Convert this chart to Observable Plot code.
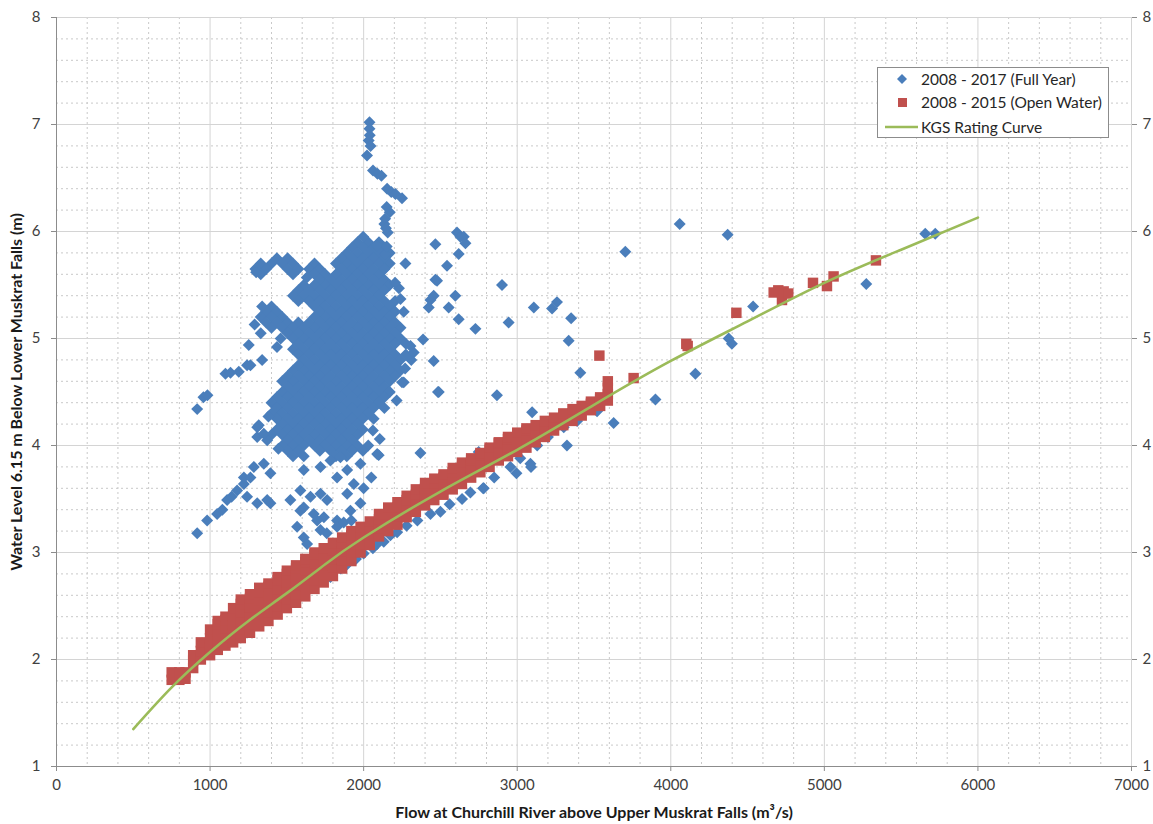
<!DOCTYPE html>
<html>
<head>
<meta charset="utf-8">
<script src="https://cdn.jsdelivr.net/npm/d3@7"></script>
<script src="https://cdn.jsdelivr.net/npm/@observablehq/plot@0.6"></script>
<style>
  body { margin: 0; background: #fff; }
  #wrap { position: relative; width: 1153px; height: 824px; font-family: Lato, "Open Sans", sans-serif; }
  #legend { position: absolute; left: 877px; top: 67px; width: 232px; height: 71px; box-sizing: border-box;
            border: 1px solid #8c8c8c; background: #fff; }
  .item { position: absolute; left: 0; height: 22px; display: flex; align-items: center; font-size: 15.5px; color: #262626; white-space: nowrap; }
  .item svg { width: 43px; height: 22px; flex: none; }
</style>
</head>
<body>
<div id="wrap">
  <div id="chart"></div>
  <div id="legend"></div>
</div>
<script>
// ---- Data ----
const xTicks = [0, 1000, 2000, 3000, 4000, 5000, 6000, 7000];
const yTicks = [1, 2, 3, 4, 5, 6, 7, 8];
const xLabel = "Flow at Churchill River above Upper Muskrat Falls (m³/s)";
const yLabel = "Water Level 6.15 m Below Lower Muskrat Falls (m)";
const seriesNames = ["2008 - 2017 (Full Year)", "2008 - 2015 (Open Water)", "KGS Rating Curve"];
const colors = ["#4a7ebb", "#c0504d", "#9bbb59"];

// KGS rating curve: flow (m3/s), level (m)
const curveFlow  = [500, 750, 1000, 1250, 1500, 1750, 2000, 2500, 3000, 3500, 4000, 4500, 5000, 5500, 6000];
const curveLevel = [1.35, 1.74, 2.07, 2.36, 2.62, 2.89, 3.14, 3.57, 3.96, 4.38, 4.79, 5.16, 5.52, 5.83, 6.13];

// Full-year series, dense core: [level, [flows...]]
const blueCoreRows = [
  [5.90, [1960, 2030, 2100]],
  [5.85, [1925, 1995, 2065, 2135]],
  [5.80, [1890, 1960, 2030, 2100, 2170]],
  [5.75, [1435, 1505, 1855, 1925, 1995, 2065, 2135]],
  [5.70, [1330, 1400, 1470, 1540, 1680, 1820, 1890, 1960, 2030, 2100, 2170]],
  [5.65, [1295, 1365, 1505, 1575, 1645, 1715, 1855, 1925, 1995, 2065, 2135]],
  [5.60, [1330, 1540, 1680, 1750, 1820, 1890, 1960, 2030, 2100]],
  [5.55, [1715, 1785, 1855, 1925, 1995, 2065, 2135]],
  [5.50, [1610, 1680, 1750, 1820, 1890, 1960, 2030, 2100, 2170]],
  [5.45, [1575, 1645, 1715, 1785, 1855, 1925, 1995, 2065, 2135]],
  [5.40, [1540, 1610, 1680, 1750, 1820, 1890, 1960, 2030, 2100]],
  [5.35, [1575, 1645, 1715, 1785, 1855, 1925, 1995, 2065, 2135, 2205]],
  [5.30, [1400, 1680, 1750, 1820, 1890, 1960, 2030, 2100, 2170]],
  [5.25, [1365, 1435, 1715, 1785, 1855, 1925, 1995, 2065, 2135, 2205]],
  [5.20, [1330, 1400, 1470, 1680, 1750, 1820, 1890, 1960, 2030, 2100, 2170]],
  [5.15, [1365, 1435, 1505, 1575, 1645, 1715, 1785, 1855, 1925, 1995, 2065, 2135, 2205]],
  [5.10, [1400, 1470, 1540, 1610, 1680, 1750, 1820, 1890, 1960, 2030, 2100, 2170, 2240]],
  [5.05, [1505, 1575, 1645, 1715, 1785, 1855, 1925, 1995, 2065, 2135, 2205]],
  [5.00, [1540, 1610, 1680, 1750, 1820, 1890, 1960, 2030, 2100, 2170, 2240]],
  [4.95, [1575, 1645, 1715, 1785, 1855, 1925, 1995, 2065, 2135, 2205, 2275]],
  [4.90, [1540, 1610, 1680, 1750, 1820, 1890, 1960, 2030, 2100, 2170]],
  [4.85, [1575, 1645, 1715, 1785, 1855, 1925, 1995, 2065, 2135, 2205, 2275]],
  [4.80, [1610, 1680, 1750, 1820, 1890, 1960, 2030, 2100, 2170, 2240, 2310]],
  [4.75, [1575, 1645, 1715, 1785, 1855, 1925, 1995, 2065, 2135, 2205]],
  [4.70, [1540, 1610, 1680, 1750, 1820, 1890, 1960, 2030, 2100, 2170, 2240]],
  [4.65, [1505, 1575, 1645, 1715, 1785, 1855, 1925, 1995, 2065, 2135, 2205]],
  [4.60, [1470, 1540, 1610, 1680, 1750, 1820, 1890, 1960, 2030, 2100, 2170]],
  [4.55, [1505, 1575, 1645, 1715, 1785, 1855, 1925, 1995, 2065, 2135]],
  [4.50, [1470, 1540, 1610, 1680, 1750, 1820, 1890, 1960, 2030, 2100, 2170]],
  [4.45, [1435, 1505, 1575, 1645, 1715, 1785, 1855, 1925, 1995, 2065, 2135]],
  [4.40, [1400, 1470, 1540, 1610, 1680, 1750, 1820, 1890, 1960, 2030, 2100]],
  [4.35, [1435, 1505, 1575, 1645, 1715, 1785, 1855, 1925, 1995, 2065, 2135]],
  [4.30, [1400, 1470, 1540, 1610, 1680, 1750, 1820, 1890, 1960, 2030]],
  [4.25, [1435, 1505, 1575, 1645, 1715, 1785, 1855, 1925, 1995, 2065]],
  [4.20, [1470, 1540, 1610, 1680, 1750, 1820, 1890, 1960]],
  [4.15, [1435, 1505, 1575, 1645, 1715, 1785, 1855, 1925, 1995]],
  [4.10, [1400, 1470, 1540, 1610, 1680, 1750, 1820, 1890, 1960]],
  [4.05, [1505, 1575, 1645, 1715, 1785, 1855, 1925]],
  [4.00, [1470, 1540, 1610, 1680, 1750, 1820, 1890, 1960, 2030]],
  [3.95, [1505, 1575, 1715, 1785, 1855, 1925, 1995]],
  [3.90, [1540, 1610, 1820, 1890]]
];

// Full-year series, scattered points: [flow, level]
const blueScatter = [
  [2038, 7.02], [2038, 6.96], [2040, 6.90], [2033, 6.85], [2045, 6.80], [2022, 6.71], [2061, 6.57], [2090, 6.54],
  [2116, 6.52], [2153, 6.40], [2180, 6.37], [2207, 6.35], [2250, 6.31], [2170, 6.18], [2150, 6.23], [2135, 6.07],
  [2140, 6.12], [2157, 5.99], [2145, 6.03], [1997, 5.95], [2088, 5.87], [2142, 5.79], [2272, 5.70], [2135, 5.65],
  [2150, 5.86], [2467, 5.88], [2608, 5.99], [2630, 5.95], [2652, 5.95], [2663, 5.89], [2619, 5.79], [2543, 5.68],
  [2467, 5.55], [2478, 5.54], [2456, 5.40], [2435, 5.36], [2424, 5.29], [2597, 5.40], [2554, 5.29], [2619, 5.18],
  [2728, 5.09], [2261, 5.25], [2387, 4.99], [2326, 4.87], [2456, 4.79], [2261, 4.59], [2484, 4.50], [2250, 4.59],
  [2370, 3.93], [2088, 3.92], [2901, 5.50], [3108, 5.29], [3227, 5.28], [3259, 5.34], [2944, 5.15], [3351, 5.19],
  [3335, 4.98], [3411, 4.68], [3097, 4.31], [2868, 4.47], [3704, 5.81], [4058, 6.07], [4370, 5.97], [4160, 4.67],
  [3900, 4.43], [3628, 4.21], [4398, 4.95], [4377, 5.00], [4536, 5.30], [5273, 5.51], [5657, 5.98], [5722, 5.98],
  [2489, 4.50], [3324, 4.00], [3086, 3.83], [3090, 3.80], [2995, 3.74], [2778, 3.60], [2749, 3.94], [2098, 3.91],
  [2230, 5.47], [2205, 5.52], [1290, 5.13], [1380, 4.27], [2215, 4.42], [2270, 4.72], [2305, 4.93], [2105, 4.06],
  [2060, 4.14], [1445, 3.97], [1330, 5.05], [1460, 5.00], [2240, 5.37], [1630, 5.57],
  [916, 3.18], [981, 3.30], [1046, 3.36], [1080, 3.40], [1111, 3.49], [1140, 3.52], [1176, 3.58], [1220, 3.64],
  [1220, 3.70], [1263, 3.70], [1285, 3.80], [1350, 3.83], [1393, 3.74], [1372, 3.49], [1307, 3.46], [1241, 3.52],
  [1393, 3.46], [1307, 4.17], [1307, 4.08], [1372, 4.05], [1317, 4.19], [1350, 4.11],
  [1610, 3.77], [1719, 3.80], [1784, 3.86], [1849, 3.89], [1893, 3.77], [1827, 3.70], [1936, 3.64], [1979, 3.83],
  [1523, 3.49], [1588, 3.58], [1654, 3.52], [1719, 3.55], [1762, 3.49], [1588, 3.39], [1675, 3.36], [1741, 3.33],
  [1827, 3.30], [1914, 3.39], [1979, 3.46], [1893, 3.55], [1567, 3.24], [1610, 3.14], [1632, 3.08], [1719, 3.21],
  [1827, 3.24], [1610, 3.42], [1697, 3.30], [1760, 3.18], [1870, 3.28], [1920, 3.30], [2000, 3.60], [2050, 3.70],
  [916, 4.34], [957, 4.45], [983, 4.47], [1100, 4.67], [1133, 4.68], [1187, 4.69], [1241, 4.75], [1263, 4.75],
  [1339, 4.80], [1252, 4.94], [1436, 4.92], [1339, 5.30], [1300, 5.62],
  [1784, 2.77], [1850, 2.85], [1893, 2.89], [1950, 2.94], [2000, 2.99], [2060, 3.04], [2088, 3.08], [2131, 3.10],
  [2174, 3.16], [2218, 3.19], [2280, 3.25], [2350, 3.30], [2435, 3.36], [2500, 3.38], [2560, 3.45], [2641, 3.50],
  [2695, 3.56], [2782, 3.60], [2850, 3.70], [2956, 3.80], [3020, 3.88], [3130, 4.00], [3200, 4.08], [3303, 4.17],
  [3390, 4.23], [3520, 4.32]
];

// Open-water series, dense band: [flow, [levels...]]
const redBandCols = [
  [750, [1.81, 1.88]], [800, [1.81, 1.88]], [840, [1.82, 1.88]], [890, [1.92, 1.99, 2.04]],
  [940, [2.00, 2.08, 2.16]], [1000, [2.04, 2.12, 2.20, 2.28]], [1050, [2.09, 2.17, 2.25, 2.33, 2.36]],
  [1100, [2.13, 2.21, 2.29, 2.37, 2.40]], [1150, [2.16, 2.24, 2.32, 2.40, 2.48]],
  [1200, [2.20, 2.28, 2.36, 2.44, 2.52, 2.56]], [1260, [2.25, 2.33, 2.41, 2.49, 2.57, 2.61]],
  [1320, [2.31, 2.39, 2.47, 2.55, 2.63, 2.67]], [1380, [2.36, 2.44, 2.52, 2.60, 2.68, 2.71]],
  [1440, [2.42, 2.50, 2.58, 2.66, 2.74, 2.77]], [1500, [2.48, 2.56, 2.64, 2.72, 2.80, 2.83]],
  [1560, [2.53, 2.61, 2.69, 2.77, 2.85, 2.88]], [1620, [2.59, 2.67, 2.75, 2.83, 2.91, 2.94]],
  [1680, [2.66, 2.74, 2.82, 2.90, 2.98, 3.00]], [1740, [2.72, 2.80, 2.88, 2.96, 3.04]],
  [1800, [2.78, 2.86, 2.94, 3.02, 3.09]], [1860, [2.85, 2.93, 3.01, 3.09, 3.14]],
  [1920, [2.92, 3.00, 3.08, 3.16, 3.20]], [1980, [3.00, 3.08, 3.16, 3.24]], [2040, [3.07, 3.15, 3.23, 3.29]],
  [2100, [3.15, 3.23, 3.31, 3.36]], [2160, [3.20, 3.28, 3.36, 3.42]], [2220, [3.26, 3.34, 3.42, 3.47]],
  [2280, [3.33, 3.41, 3.49, 3.53]], [2340, [3.38, 3.46, 3.54, 3.59]], [2400, [3.44, 3.52, 3.60, 3.65]],
  [2460, [3.49, 3.57, 3.65, 3.69]], [2520, [3.54, 3.62, 3.70, 3.73]], [2580, [3.59, 3.67, 3.75, 3.79]],
  [2640, [3.64, 3.72, 3.80, 3.84]], [2700, [3.70, 3.78, 3.86, 3.88]], [2760, [3.75, 3.83, 3.91, 3.93]],
  [2820, [3.80, 3.88, 3.96, 3.98]], [2880, [3.86, 3.94, 4.02, 4.03]], [2940, [3.90, 3.98, 4.06, 4.08]],
  [3000, [3.94, 4.02, 4.10, 4.12]], [3060, [3.98, 4.06, 4.14, 4.16]], [3120, [4.03, 4.11, 4.19]],
  [3180, [4.08, 4.16, 4.23]], [3240, [4.14, 4.21, 4.26]], [3300, [4.19, 4.26, 4.30]],
  [3360, [4.23, 4.30, 4.34]], [3420, [4.28, 4.34, 4.37]], [3480, [4.33, 4.39, 4.41]],
  [3540, [4.37, 4.43, 4.45]], [3590, [4.42, 4.48, 4.54, 4.60]]
];

// Open-water series, isolated points: [flow, level]
const redScatter = [
  [3535, 4.84], [3758, 4.63], [4101, 4.95], [4110, 4.93], [4427, 5.24], [4670, 5.43], [4700, 5.45],
  [4735, 5.44], [4724, 5.36], [4765, 5.42], [4926, 5.52], [5017, 5.49], [5060, 5.58], [5336, 5.73]
];

// ---- Build tables ----
const blue = [];
for (const [lv, flows] of blueCoreRows) for (const f of flows) blue.push({flow: f, level: lv});
for (const [f, lv] of blueScatter) blue.push({flow: f, level: lv});
const red = [];
for (const [f, lvs] of redBandCols) for (const lv of lvs) red.push({flow: f, level: lv});
for (const [f, lv] of redScatter) red.push({flow: f, level: lv});
const curve = curveFlow.map((f, i) => ({flow: f, level: curveLevel[i]}));

const minorX = d3.range(0, 7001, 200).filter(v => v % 1000 !== 0);
const minorY = d3.range(10, 81, 2).map(v => v / 10).filter(v => Math.abs(v - Math.round(v)) > 1e-9);

const chart = Plot.plot({
  width: 1153,
  height: 824,
  marginLeft: 56,
  marginRight: 22,
  marginTop: 17,
  marginBottom: 58,
  style: {fontFamily: "Lato, 'Open Sans', sans-serif", fontSize: "15px", color: "#404040", background: "#fff"},
  x: {domain: [0, 7000]},
  y: {domain: [1, 8]},
  marks: [
    Plot.gridX(minorX, {stroke: "#c9c9c9", strokeOpacity: 1, strokeDasharray: "2,3"}),
    Plot.gridY(minorY, {stroke: "#c9c9c9", strokeOpacity: 1, strokeDasharray: "2,3"}),
    Plot.gridX(xTicks, {stroke: "#d4d4d4", strokeOpacity: 1}),
    Plot.gridY(yTicks, {stroke: "#d4d4d4", strokeOpacity: 1}),
    Plot.dot(blue, {x: "flow", y: "level", symbol: "diamond2", r: 5.4, fill: colors[0], stroke: "none"}),
    Plot.dot(red, {x: "flow", y: "level", symbol: "square", r: 5.9, fill: colors[1], stroke: "none"}),
    Plot.line(curve, {x: "flow", y: "level", stroke: colors[2], strokeWidth: 2.6, curve: "natural"}),
    Plot.ruleX([0], {stroke: "#8c8c8c"}),
    Plot.ruleY([1], {stroke: "#8c8c8c"}),
    Plot.axisX(xTicks, {anchor: "bottom", tickSize: 5, tickPadding: 8, stroke: "#8c8c8c", tickFormat: d => String(d), label: null}),
    Plot.axisY(yTicks, {anchor: "left", tickSize: 5, tickPadding: 11, stroke: "#8c8c8c", tickFormat: d => String(d), label: null}),
    Plot.axisY(yTicks, {anchor: "right", tickSize: 5, tickPadding: 6, stroke: "#8c8c8c", tickFormat: d => String(d), label: null}),
    Plot.text([xLabel], {frameAnchor: "bottom", dy: 51, textAnchor: "middle", fontWeight: "bold", fontSize: 16, fill: "#1a1a1a"}),
    Plot.text([yLabel], {frameAnchor: "left", dx: -40, rotate: -90, textAnchor: "middle", fontWeight: "bold", fontSize: 16, fill: "#1a1a1a"})
  ]
});
document.getElementById("chart").appendChild(chart);

// ---- Legend (HTML overlay) ----
const legend = document.getElementById("legend");
const icons = [
  `<svg viewBox="0 0 43 22"><path d="M24,6 L29,11 L24,16 L19,11 Z" fill="${colors[0]}"/></svg>`,
  `<svg viewBox="0 0 43 22"><rect x="20" y="7" width="9" height="9" fill="${colors[1]}"/></svg>`,
  `<svg viewBox="0 0 43 22"><line x1="7" y1="11" x2="40" y2="11" stroke="${colors[2]}" stroke-width="2.6"/></svg>`
];
const tops = [0, 23, 48];
seriesNames.forEach((name, i) => {
  const d = document.createElement("div");
  d.className = "item";
  d.style.top = tops[i] + "px";
  d.innerHTML = icons[i] + `<span>${name}</span>`;
  legend.appendChild(d);
});
</script>
</body>
</html>
